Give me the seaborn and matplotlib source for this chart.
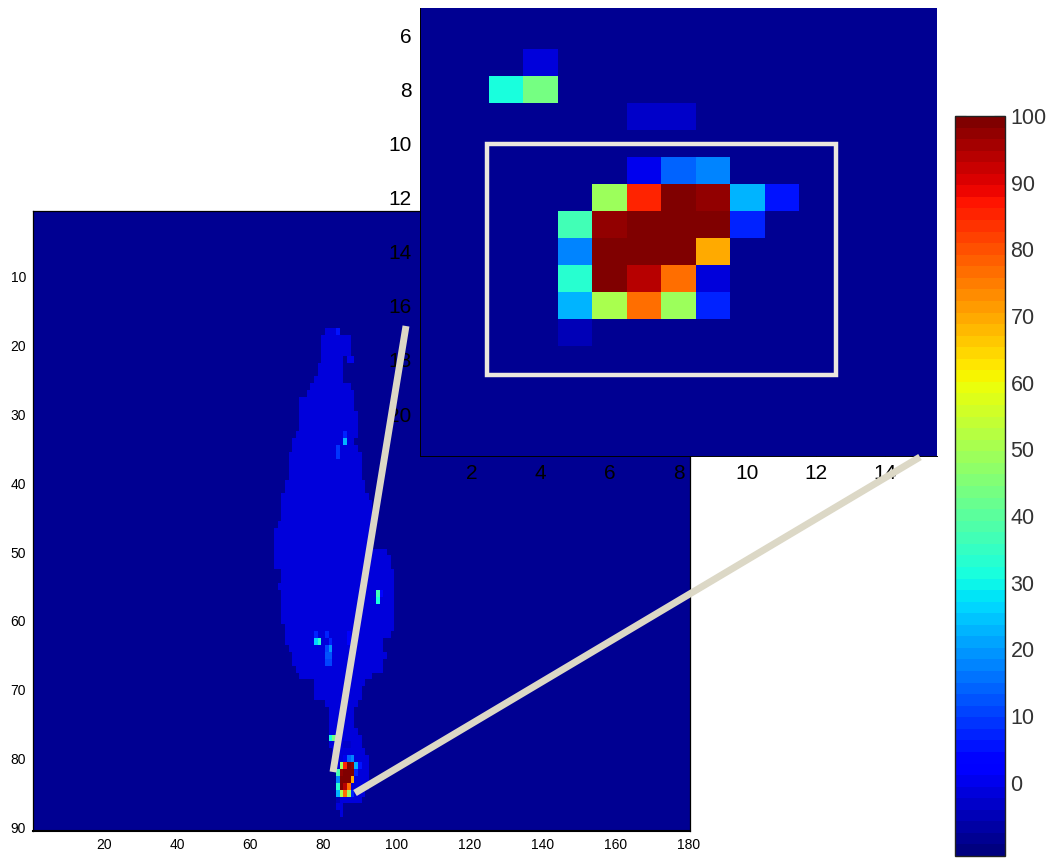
import matplotlib
matplotlib.use("Agg")
import matplotlib.pyplot as plt
from matplotlib.lines import Line2D
from matplotlib.patches import Rectangle
import numpy as np
import seaborn as sns

# value scale
vmin = -11
vmax = 100
background = -9
leaf_value = -2

# leaf outline in the full map: first and last column for each row (18..88)
leaf_rows = list(range(18, 89))
leaf_left = [81, 80, 80, 80, 80, 79, 79, 78, 77, 76, 74, 74, 74, 74, 74, 73, 72, 72,
             71, 71, 71, 71, 70, 70, 69, 69, 69, 69, 68, 67, 67, 67, 67, 67, 67, 69,
             69, 68, 69, 69, 69, 69, 69, 70, 70, 70, 71, 72, 72, 73, 74, 78, 78, 78,
             81, 82, 82, 82, 82, 82, 82, 83, 83, 84, 84, 84, 84, 84, 84, 84, 85]
leaf_right = [84, 87, 87, 87, 85, 85, 85, 85, 87, 88, 88, 88, 89, 89, 89, 89, 88, 89,
              90, 90, 90, 90, 91, 91, 92, 93, 93, 93, 93, 93, 93, 93, 97, 98, 98, 99,
              99, 99, 99, 99, 99, 99, 99, 99, 98, 96, 96, 97, 96, 96, 93, 91, 90, 90,
              89, 88, 88, 88, 89, 90, 90, 91, 92, 92, 92, 92, 92, 91, 90, 85, 85]

# isolated brighter cells in the full map
spot_rows = [18, 22, 22, 33, 34, 35, 36, 56, 57, 56, 62, 63, 63, 62, 63, 64, 64, 65, 65,
             66, 66, 62, 63, 77, 77, 78, 78]
spot_cols = [84, 87, 88, 86, 86, 84, 84, 95, 95, 96, 78, 78, 79, 81, 82, 81, 82, 81, 82,
             81, 82, 87, 87, 82, 83, 86, 87]
spot_values = [6, 0, 0, 8, 22, 9, 9, 37, 31, 3, 8, 27, 33, 8, 7, 10, 20, 12, 12,
               10, 10, 2, 2, 38, 13, 8, 8]

# cells of the enlarged view
inset_rows = [7, 8, 8, 9, 9,
              11, 11, 11,
              12, 12, 12, 12, 12, 12,
              13, 13, 13, 13, 13, 13,
              14, 14, 14, 14, 14,
              15, 15, 15, 15, 15,
              16, 16, 16, 16, 16,
              17]
inset_cols = [4, 3, 4, 7, 8,
              7, 8, 9,
              6, 7, 8, 9, 10, 11,
              5, 6, 7, 8, 9, 10,
              5, 6, 7, 8, 9,
              5, 6, 7, 8, 9,
              5, 6, 7, 8, 9,
              5]
inset_values = [-1, 32, 43, -3, -3,
                1, 15, 18,
                48, 86, 100, 97, 22, 6,
                36, 97, 100, 100, 100, 8,
                17, 100, 100, 100, 69,
                34, 100, 94, 77, -1,
                22, 51, 77, 48, 8,
                -5]
# the enlarged view sits at this offset inside the full map
row_offset = 69
col_offset = 79

main_xticks = [20, 40, 60, 80, 100, 120, 140, 160, 180]
main_yticks = [10, 20, 30, 40, 50, 60, 70, 80, 90]
inset_xticks = [2, 4, 6, 8, 10, 12, 14]
inset_yticks = [6, 8, 10, 12, 14, 16, 18, 20]
cbar_ticks = [0, 10, 20, 30, 40, 50, 60, 70, 80, 90, 100]

W, H = 1051, 858


def px_axes(fig, left, top, right, bottom, **kw):
    return fig.add_axes([left / W, 1 - bottom / H, (right - left) / W, (bottom - top) / H], **kw)


def px_line(fig, x0, y0, x1, y1):
    fig.add_artist(Line2D([x0 / W, x1 / W], [1 - y0 / H, 1 - y1 / H], color="#dcd8c6", lw=5,
                          solid_capstyle="butt", transform=fig.transFigure, zorder=20))


sns.set_theme(style="white")
plt.rcParams["font.family"] = ["Liberation Sans", "DejaVu Sans"]

# build the two grids
main_grid = np.full((90, 180), background, dtype=float)
for r, a, b in zip(leaf_rows, leaf_left, leaf_right):
    main_grid[r - 1, a - 1:b] = leaf_value
for r, c, v in zip(spot_rows, spot_cols, spot_values):
    main_grid[r - 1, c - 1] = v
for r, c, v in zip(inset_rows, inset_cols, inset_values):
    main_grid[r + row_offset - 1, c + col_offset - 1] = v

inset_grid = np.full((22, 16), background, dtype=float)
for r, c, v in zip(inset_rows, inset_cols, inset_values):
    inset_grid[r - 1, c - 1] = v

cmap = plt.get_cmap("jet", 64)

fig = plt.figure(figsize=(W / 100, H / 100), dpi=100, facecolor="white")
ax = px_axes(fig, 33, 211, 690, 831)
ax_in = px_axes(fig, 420, 8, 937, 456)
cax = px_axes(fig, 955, 116, 1005, 856)

sns.heatmap(main_grid, vmin=vmin, vmax=vmax, cmap=cmap, cbar=False, ax=ax,
            xticklabels=False, yticklabels=False)
sns.heatmap(inset_grid, vmin=vmin, vmax=vmax, cmap=cmap, cbar=True, cbar_ax=cax, ax=ax_in,
            xticklabels=False, yticklabels=False)

ax.set_xticks(np.array(main_xticks) - 0.5, labels=main_xticks)
ax.set_yticks(np.array(main_yticks) - 0.5, labels=main_yticks, rotation=0)
ax.tick_params(axis="both", direction="in", length=5.5, width=0.8, color="black",
               labelsize=10, labelcolor="black", pad=5, bottom=True, left=True)

ax_in.set_xlim(0, 15)
ax_in.set_ylim(21.05, 4.5)
ax_in.set_xticks(np.array(inset_xticks) - 0.5, labels=inset_xticks)
ax_in.set_yticks(np.array(inset_yticks) - 0.5, labels=inset_yticks, rotation=0)
ax_in.tick_params(axis="both", direction="in", length=5, width=0.8, color="black",
                  labelsize=15, labelcolor="black", pad=6, bottom=True, left=True)

for side in ax.spines.values():
    side.set_visible(True)
    side.set_color("black")
    side.set_linewidth(0.9)
ax.spines["bottom"].set_linewidth(1.5)
for name in ("left", "bottom"):
    ax_in.spines[name].set_visible(True)
    ax_in.spines[name].set_color("black")
    ax_in.spines[name].set_linewidth(0.7)

# white box around the hot region in the enlarged view
ax_in.add_patch(Rectangle((1.93, 9.53), 10.15, 8.52, fill=False, ec="#ece8de", lw=3.2, zorder=5))

cbar = ax_in.collections[0].colorbar
cbar.set_ticks(cbar_ticks)
cbar.outline.set_visible(True)
cbar.outline.set_edgecolor("#222222")
cbar.outline.set_linewidth(1.0)
cax.tick_params(axis="y", direction="in", length=8, width=0.8, color="#222222", labelsize=15.5,
                labelcolor="#333333", left=True, right=True, pad=4)

# zoom guide lines
px_line(fig, 333, 772, 406, 326)
px_line(fig, 355, 793, 920, 457)

fig.savefig("out.png", dpi=100, facecolor="white")
